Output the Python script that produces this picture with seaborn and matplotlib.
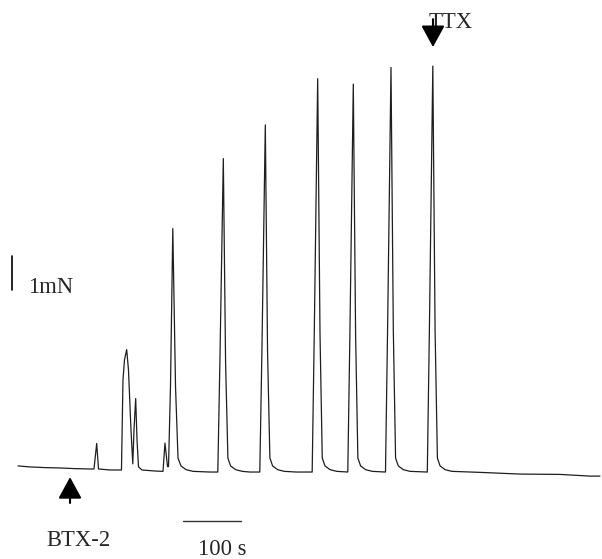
import matplotlib
matplotlib.use("Agg")
import matplotlib.pyplot as plt
import seaborn as sns
import pandas as pd

# Force trace: time (s) and force (mN)
time_s = [0, 20.7, 46.6, 72.4, 98.3, 124.1, 131.0, 135.7, 138.8, 158.6,
          178.4, 181.0, 183.6, 187.4, 190.5, 194.8, 197.9, 200.0, 202.9, 205.2,
          207.8, 213.8, 236.2, 250.0, 253.4, 257.8,
          259.5, 262.9, 266.9, 271.6, 275.9, 281.0, 289.7, 301.7, 331.0,
          344.5, 348.1, 354.0, 357.9, 361.9, 366.5, 375.2, 386.7, 400.0,
          416.9, 420.5, 426.4, 430.3, 434.3, 439.0, 447.6, 459.1, 480.0,
          507.2, 510.8, 516.7, 520.7, 524.6, 529.3, 537.9, 549.5,
          568.6, 572.2, 578.1, 582.1, 586.0, 590.7, 599.3, 610.9,
          633.6, 637.2, 643.1, 647.1, 651.0, 655.7, 664.3, 675.9,
          705.7, 709.3, 715.2, 719.1, 723.1, 727.7, 736.4, 747.9,
          796.5, 865.5, 934.5, 986.2, 1003.4]
force_mN = [0.12, 0.09, 0.07, 0.06, 0.04, 0.03, 0.03, 0.78, 0.03, 0.00,
            0.00, 2.65, 3.24, 3.54, 2.94, 1.18, 0.18, 1.18, 2.10, 0.88,
            0.09, 0.00, -0.03, -0.04, 0.79, 0.10,
            0.10, 2.45, 7.10, 2.45, 0.35, 0.12, 0.01, -0.04, -0.06,
            -0.06, 3.17, 9.16, 3.17, 0.35, 0.12, 0.01, -0.04, -0.06,
            -0.06, 3.45, 10.15, 3.45, 0.35, 0.12, 0.01, -0.04, -0.06,
            -0.06, 4.00, 11.51, 4.00, 0.35, 0.12, 0.01, -0.04,
            -0.06, 3.94, 11.35, 3.94, 0.35, 0.12, 0.01, -0.04,
            -0.06, 4.11, 11.84, 4.11, 0.35, 0.12, 0.01, -0.04,
            -0.06, 4.12, 11.88, 4.12, 0.35, 0.12, 0.01, -0.04,
            -0.07, -0.12, -0.13, -0.18, -0.18]

# Drug application times (s) and scale bars
btx_time = 89.7
ttx_time = 715.5
time_bar = [284.0, 384.0]   # 100 s
force_bar = [5.29, 6.29]    # 1 mN

trace = pd.DataFrame({"time": time_s, "force": force_mN})

sns.set_style("white")
plt.rcParams['font.family'] = ['Liberation Serif', 'DejaVu Serif']

fig = plt.figure(figsize=(6.02, 5.59), dpi=100)
ax = fig.add_axes([0, 0, 1, 1])

sns.lineplot(data=trace, x="time", y="force", sort=False, estimator=None,
             color='#1e1e1e', linewidth=0.9, ax=ax)

# scale bars
ax.plot([-10.3, -10.3], force_bar, color='black', linewidth=1.2)
ax.plot(time_bar, [-1.49, -1.49], color='#333333', linewidth=1.0)

fs = 16.3
ax.text(17.2, 5.21, '1mN', fontsize=fs, va='baseline', ha='left')
ax.text(310.3, -2.5, '100 s', fontsize=fs, va='baseline', ha='left')
ax.text(49.5, -2.235, 'BTX-2', fontsize=fs, va='baseline', ha='left')
ax.text(707.4, 12.99, 'TTX', fontsize=fs, va='baseline', ha='left')

# drug application arrows
arrow_style = dict(arrowstyle='-|>,head_length=0.66,head_width=0.36',
                   color='black', lw=1.5, shrinkA=0, shrinkB=0,
                   mutation_scale=20)
ax.annotate('', xy=(btx_time, -0.21), xytext=(btx_time, -0.97),
            arrowprops=arrow_style)
ax.annotate('', xy=(ttx_time, 12.44), xytext=(ttx_time, 13.26),
            arrowprops=arrow_style)

ax.set_xlim(-31.03, 1006.9)
ax.set_ylim(-2.618, 13.824)
ax.set_xlabel('')
ax.set_ylabel('')
ax.set_xticks([])
ax.set_yticks([])
for s in ax.spines.values():
    s.set_visible(False)

fig.savefig('out.png', dpi=100)
